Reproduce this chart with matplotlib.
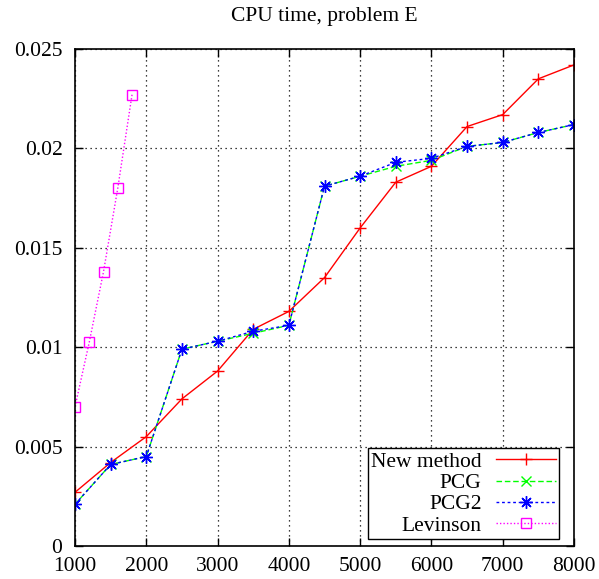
# CPU time comparison, problem E
import numpy as np
import matplotlib
matplotlib.use('Agg')
import matplotlib.pyplot as plt

plt.rcParams['font.family'] = ['Liberation Serif', 'DejaVu Serif']

# Problem sizes
n_main = [1000, 1500, 2000, 2500, 3000, 3500, 4000, 4500,
          5000, 5500, 6000, 6500, 7000, 7500, 8000]
n_lev = [1000, 1200, 1400, 1600, 1800]

# CPU times
t_new = [0.0027, 0.0042, 0.0055, 0.0074, 0.0088, 0.0109, 0.0118, 0.0135,
         0.0160, 0.0183, 0.0191, 0.0211, 0.0217, 0.0235, 0.0242]
t_pcg = [0.0021, 0.0041, 0.0045, 0.0099, 0.0103, 0.0107, 0.0111, 0.0181,
         0.0186, 0.0191, 0.0194, 0.0201, 0.0203, 0.0208, 0.0212]
t_pcg2 = [0.0021, 0.0041, 0.0045, 0.0099, 0.0103, 0.0108, 0.0111, 0.0181,
          0.0186, 0.0193, 0.0195, 0.0201, 0.0203, 0.0208, 0.0212]
t_lev = [0.0070, 0.01025, 0.0138, 0.0180, 0.0227]

x_ticks = [1000, 2000, 3000, 4000, 5000, 6000, 7000, 8000]
y_ticks = [0, 0.005, 0.01, 0.015, 0.02, 0.025]
y_labels = ['0', '0.005', '0.01', '0.015', '0.02', '0.025']

fig = plt.figure(figsize=(5.99, 5.79), dpi=100)
ax = fig.add_axes([75 / 599, 33 / 579, 499 / 599, 497 / 579])

asterisk = (8, 2, 0)

ax.plot(n_main, t_new, color='#ff0000', lw=1, marker='+', ms=9, mew=1,
        label='New method')
ax.plot(n_main, t_pcg, color='#00ff00', lw=1, ls=(0, (4, 2)), marker='x',
        ms=7, mew=1, label='PCG')
ax.plot(n_main, t_pcg2, color='#0000ff', lw=1, ls=(0, (2, 2)), marker=asterisk,
        ms=9, mew=1, label='PCG2')
ax.plot(n_lev, t_lev, color='#ff00ff', lw=1, ls=(0, (1, 1.5)), marker='s',
        ms=7, mew=1, fillstyle='none', label='Levinson')

ax.set_xlim(1000, 8000)
ax.set_ylim(0, 0.025)
ax.set_xticks(x_ticks)
ax.set_yticks(y_ticks)
ax.set_yticklabels(y_labels)
ax.tick_params(direction='in', top=True, right=True, length=6, width=1,
               labelsize=15.5)
ax.tick_params(axis='y', pad=9)
ax.tick_params(axis='x', pad=8)

ax.grid(True, color='black', ls=(0, (1, 3)), lw=0.9)
for s in ax.spines.values():
    s.set_linewidth(1.2)

fig.text(0.5 * (75 + 574) / 599, 1 - 17 / 579, 'CPU time, problem E',
         ha='center', va='center', fontsize=15.5)

leg = ax.legend(loc='lower right', bbox_to_anchor=(0.970, 0.014),
                markerfirst=False, fontsize=15.5,
                frameon=True, fancybox=False, edgecolor='black',
                framealpha=1, handlelength=2.8, numpoints=1,
                borderaxespad=0, labelspacing=0.06, handletextpad=0.65,
                borderpad=0.15)
leg.get_frame().set_linewidth(1)

plt.savefig('out.png', dpi=100)
